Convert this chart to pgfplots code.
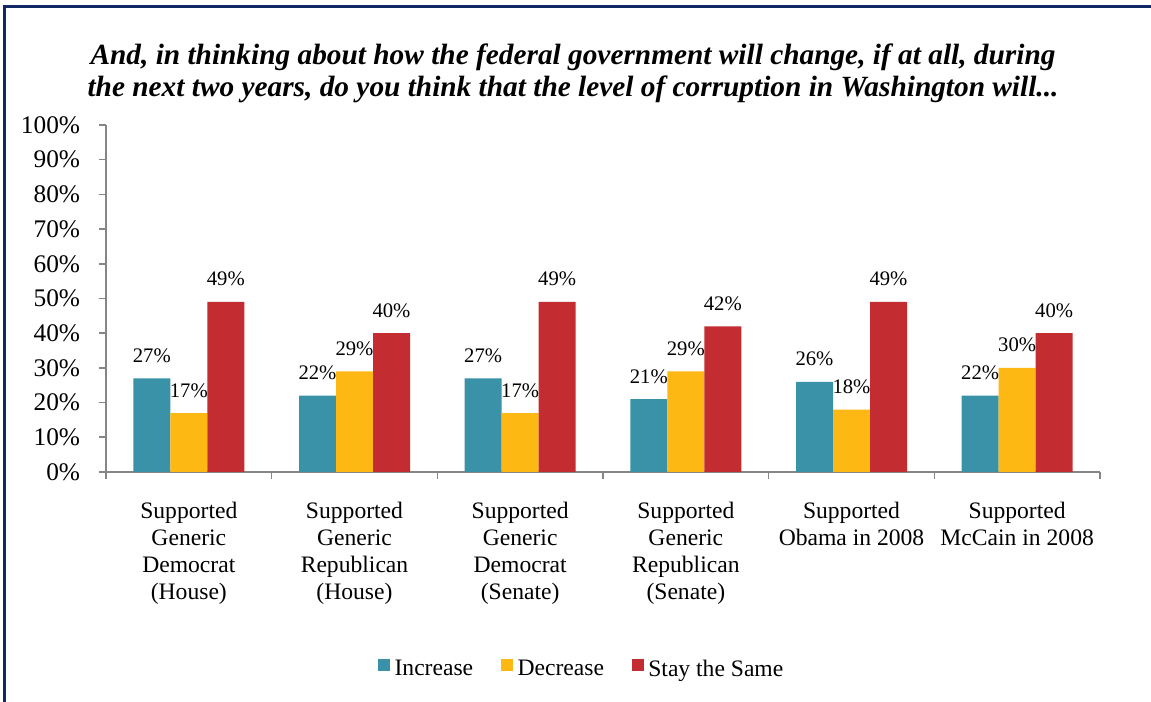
\documentclass[border=0pt]{standalone}
\usepackage{fontspec}
\setmainfont{Liberation Serif}
\usepackage{pgfplots}
\pgfplotsset{compat=1.18}
\definecolor{cInc}{RGB}{58,146,168}
\definecolor{cDec}{RGB}{253,184,19}
\definecolor{cSame}{RGB}{195,44,48}
\definecolor{frameblue}{RGB}{18,40,100}
\definecolor{axgray}{RGB}{134,134,134}
\pgfplotsset{sqlegend/.style={legend image code/.code={\fill[##1,draw=none] (0pt,-1.5pt) rectangle (9pt,7.5pt); \path (10.25pt,0pt);}}}
\begin{document}
\begin{tikzpicture}[x=0.75pt,y=0.75pt]
\path[use as bounding box] (0,0) rectangle (1151,702);
\fill[white] (0,0) rectangle (1151,702);
\fill[frameblue] (3,0) rectangle (6,697);
\fill[frameblue] (3,694) rectangle (1151,697);
\node[anchor=base, font=\fontsize{22}{24}\selectfont\bfseries\itshape] at (573,637) {And, in thinking about how the federal government will change, if at all, during};
\node[anchor=base, font=\fontsize{22}{24}\selectfont\bfseries\itshape] at (573,605) {the next two years, do you think that the level of corruption in Washington will...};
\begin{axis}[
  at={(79.5pt,172.5pt)}, anchor=south west,
  scale only axis, width=745.5pt, height=260.25pt,
  xmin=-0.5, xmax=5.5, ymin=0, ymax=100,
  axis x line=bottom, axis y line=left,
  axis line style={-, axgray, line width=1.2pt},
  tick style={axgray, line width=1.2pt},
  major tick length=5.25pt, tick align=outside,
  ytick={0,10,...,100},
  yticklabel={\pgfmathprintnumber{\tick}\%},
  /pgf/number format/assume math mode=true,
  yticklabel style={font=\fontsize{19}{21}\selectfont, inner sep=0pt, anchor=east, xshift=-14pt},
  xtick={-0.5,0.5,...,5.5},
  x tick label as interval,
  xticklabels={{Supported\\Generic\\Democrat\\(House)},{Supported\\Generic\\Republican\\(House)},{Supported\\Generic\\Democrat\\(Senate)},{Supported\\Generic\\Republican\\(Senate)},{Supported\\Obama in 2008},{Supported\\McCain in 2008}},
  xticklabel style={font=\fontsize{17.7}{20.25}\selectfont, align=center, anchor=north, inner sep=0pt, yshift=-17pt},
  ybar=0pt, bar width=27.75pt,
  nodes near coords={\pgfmathprintnumber{\pgfplotspointmeta}\%},
  every node near coord/.append style={font=\fontsize{15.5}{17}\selectfont, text=black, anchor=base, inner sep=0pt, yshift=12pt},
  legend style={at={(0.479,-0.568)}, anchor=center, draw=none, fill=none, legend columns=3,
    font=\fontsize{17.7}{20}\selectfont,
    /tikz/every even column/.append style={column sep=19pt}},
]
\addplot[fill=cInc, draw=none, sqlegend] coordinates {(0,27) (1,22) (2,27) (3,21) (4,26) (5,22)};
\addplot[fill=cDec, draw=none, sqlegend] coordinates {(0,17) (1,29) (2,17) (3,29) (4,18) (5,30)};
\addplot[fill=cSame, draw=none, sqlegend] coordinates {(0,49) (1,40) (2,49) (3,42) (4,49) (5,40)};
\legend{Increase, Decrease, Stay the Same}
\end{axis}
\end{tikzpicture}
\end{document}
